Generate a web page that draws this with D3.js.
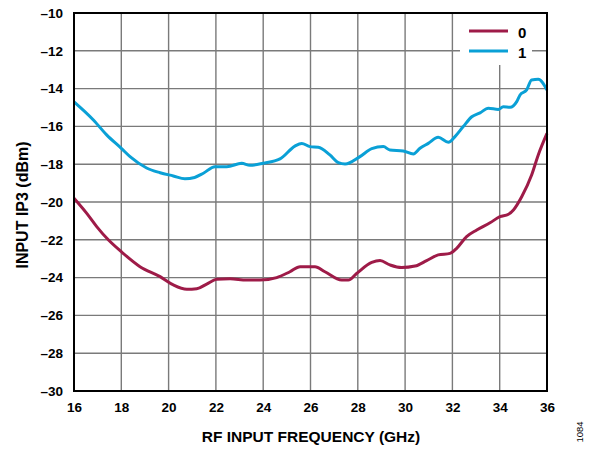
<!DOCTYPE html>
<html>
<head>
<meta charset="utf-8">
<script src="https://cdn.jsdelivr.net/npm/d3@7"></script>
<style>
  html, body { margin: 0; padding: 0; background: #fff; }
  svg { display: block; font-family: Arial, "Liberation Sans", sans-serif; }
</style>
</head>
<body>
<svg id="chart" width="597" height="449"></svg>
<script>
// Input IP3 vs RF input frequency for two settings
const seriesNames = ["0", "1"];
const seriesColors = ["#9E1B48", "#0AA0D6"];

const freq0 = [16.0, 16.54, 16.96, 17.45, 18.0, 18.79, 19.64, 20.2, 20.77, 21.19, 21.61, 22.03, 22.6, 23.3, 23.86, 24.57, 25.13, 25.56, 26.19, 26.61, 27.32, 27.6, 27.95, 28.59, 28.94, 29.36, 29.85, 30.42, 30.91, 31.4, 31.9, 32.18, 32.6, 33.03, 33.59, 34.01, 34.37, 34.58, 34.93, 35.35, 35.63, 36.0];
const ip3_0 = [-19.8, -20.6, -21.3, -22.0, -22.63, -23.42, -23.95, -24.39, -24.62, -24.59, -24.34, -24.09, -24.06, -24.13, -24.13, -24.0, -23.69, -23.42, -23.42, -23.69, -24.13, -24.13, -23.78, -23.2, -23.1, -23.33, -23.47, -23.39, -23.1, -22.8, -22.72, -22.45, -21.83, -21.48, -21.1, -20.78, -20.65, -20.42, -19.72, -18.57, -17.51, -16.37];

const freq1 = [16.0, 16.82, 17.38, 18.0, 18.37, 19.07, 19.64, 20.2, 20.69, 21.1, 21.47, 21.96, 22.46, 23.09, 23.44, 24.0, 24.71, 25.34, 25.63, 25.98, 26.33, 26.82, 27.18, 27.46, 28.09, 28.59, 29.08, 29.36, 29.92, 30.35, 30.63, 30.98, 31.4, 31.83, 32.11, 32.46, 32.82, 33.17, 33.52, 33.94, 34.15, 34.44, 34.72, 34.86, 35.14, 35.35, 35.63, 36.0];
const ip3_1 = [-14.7, -15.66, -16.45, -17.16, -17.6, -18.2, -18.45, -18.62, -18.77, -18.7, -18.48, -18.13, -18.13, -17.95, -18.06, -17.95, -17.72, -17.04, -16.9, -17.07, -17.1, -17.51, -17.92, -17.99, -17.6, -17.18, -17.07, -17.25, -17.3, -17.46, -17.16, -16.9, -16.58, -16.84, -16.54, -16.01, -15.49, -15.28, -15.04, -15.1, -14.96, -14.99, -14.69, -14.34, -14.07, -13.54, -13.51, -14.07];

const xTicks = [16, 18, 20, 22, 24, 26, 28, 30, 32, 34, 36];
const yTicks = [-30, -28, -26, -24, -22, -20, -18, -16, -14, -12, -10];

const series = [
  { name: seriesNames[0], color: seriesColors[0], pts: freq0.map((f, i) => [f, ip3_0[i]]) },
  { name: seriesNames[1], color: seriesColors[1], pts: freq1.map((f, i) => [f, ip3_1[i]]) }
];

const svg = d3.select("#chart");
const pLeft = 74, pRight = 547, pTop = 13, pBottom = 391;

const x = d3.scaleLinear().domain([16, 36]).range([pLeft, pRight]);
const y = d3.scaleLinear().domain([-30, -10]).range([pBottom, pTop]);

// grid
const grid = svg.append("g").attr("stroke", "#7a7a7a").attr("stroke-width", 1.4);
grid.selectAll("line.v").data(xTicks.slice(1, -1)).join("line")
  .attr("class", "v")
  .attr("x1", d => x(d)).attr("x2", d => x(d)).attr("y1", pTop).attr("y2", pBottom);
grid.selectAll("line.h").data(yTicks.slice(1, -1)).join("line")
  .attr("class", "h")
  .attr("y1", d => y(d)).attr("y2", d => y(d)).attr("x1", pLeft).attr("x2", pRight);

// axes with bold tick labels
const fmt = d => (d < 0 ? "\u2013" + Math.abs(d) : String(d));
const xAxis = svg.append("g").attr("transform", `translate(0,${pBottom})`)
  .call(d3.axisBottom(x).tickValues(xTicks).tickSize(0).tickPadding(11).tickFormat(fmt));
const yAxis = svg.append("g").attr("transform", `translate(${pLeft},0)`)
  .call(d3.axisLeft(y).tickValues(yTicks).tickSize(0).tickPadding(11).tickFormat(fmt));
[xAxis, yAxis].forEach(a => {
  a.select(".domain").remove();
  a.selectAll("text").attr("font-size", 13.5).attr("font-weight", "bold")
    .attr("fill", "#000").attr("font-family", "Arial, 'Liberation Sans', sans-serif");
});

// curves
const line = d3.line().x(d => x(d[0])).y(d => y(d[1])).curve(d3.curveMonotoneX);
svg.append("g").selectAll("path").data(series).join("path")
  .attr("d", d => line(d.pts))
  .attr("fill", "none")
  .attr("stroke", d => d.color)
  .attr("stroke-width", 3)
  .attr("stroke-linejoin", "round");

// legend
const lg = svg.append("g");
lg.append("rect").attr("x", 460).attr("y", pTop + 1).attr("width", 72).attr("height", 51).attr("fill", "#fff");
series.forEach((s, i) => {
  const ly = 31 + i * 20;
  lg.append("line").attr("x1", 469).attr("x2", 508).attr("y1", ly).attr("y2", ly)
    .attr("stroke", s.color).attr("stroke-width", 3);
  lg.append("text").attr("x", 518).attr("y", ly + 7).text(s.name)
    .attr("font-size", 15).attr("font-weight", "bold").attr("fill", "#000");
});

// frame
svg.append("rect").attr("x", pLeft).attr("y", pTop).attr("width", pRight - pLeft).attr("height", pBottom - pTop)
  .attr("fill", "none").attr("stroke", "#000").attr("stroke-width", 2);

// axis titles
svg.append("text").attr("x", 311).attr("y", 442).attr("text-anchor", "middle")
  .attr("font-size", 15.5).attr("font-weight", "bold").text("RF INPUT FREQUENCY (GHz)");
svg.append("text").attr("transform", `translate(28,205) rotate(-90)`)
  .attr("text-anchor", "middle").attr("font-size", 16).attr("font-weight", "bold").text("INPUT IP3 (dBm)");

// figure number
svg.append("text").attr("transform", "translate(583,432) rotate(-90)")
  .attr("text-anchor", "middle").attr("font-size", 9.5).attr("fill", "#000").text("1084");
</script>
</body>
</html>
